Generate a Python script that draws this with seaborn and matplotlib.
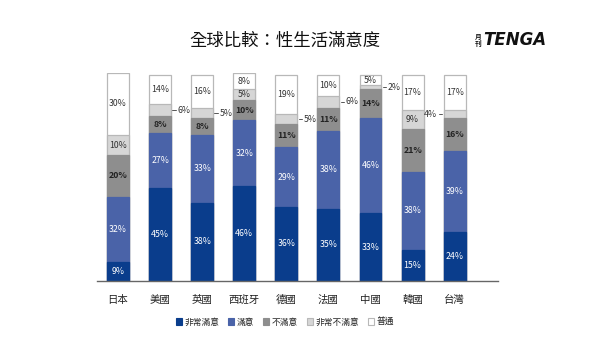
import matplotlib
matplotlib.use("Agg")
import matplotlib.pyplot as plt
import seaborn as sns
import numpy as np
import pandas as pd
from matplotlib.patches import Patch

sns.set_theme(style="white")
plt.rcParams['font.family'] = ['Noto Sans CJK TC', 'DejaVu Sans']

countries = ["日本", "美國", "英國", "西班牙", "德國", "法國", "中國", "韓國", "台灣"]
very_satisfied = [9, 45, 38, 46, 36, 35, 33, 15, 24]
satisfied = [32, 27, 33, 32, 29, 38, 46, 38, 39]
dissatisfied = [20, 8, 8, 10, 11, 11, 14, 21, 16]
very_dissatisfied = [10, 6, 5, 5, 5, 6, 2, 9, 4]
neutral = [30, 14, 16, 8, 19, 10, 5, 17, 17]

series_names = ["非常滿意", "滿意", "不滿意", "非常不滿意", "普通"]
series = [very_satisfied, satisfied, dissatisfied, very_dissatisfied, neutral]
colors = ["#0a3d8c", "#4a63a8", "#8e8e8e", "#d6d6d6", "#ffffff"]
edges = ["#0a3d8c", "#4a63a8", "#8e8e8e", "#b8b8b8", "#b8b8b8"]
text_colors = ["white", "white", "#222222", "#333333", "#333333"]
outside = {(1, 3): "r", (2, 3): "r", (4, 3): "r", (5, 3): "r", (6, 3): "r", (8, 3): "l"}

fig = plt.figure(figsize=(6.02, 3.39), dpi=100)
ax = fig.add_axes([97/602, 1-281/339, 401/602, 208/339])

arr = np.array(series, dtype=float)
cum = np.cumsum(arr, axis=0)
bw = 0.52
for k in range(len(series) - 1, -1, -1):
    df = pd.DataFrame({"country": countries, "v": cum[k]})
    sns.barplot(data=df, x="country", y="v", order=countries, color=colors[k],
                saturation=1, width=bw, edgecolor=edges[k], linewidth=0.9, ax=ax, zorder=2 + (5 - k))

for i in range(len(countries)):
    for k in range(len(series)):
        v = arr[k, i]
        mid = cum[k, i] - v / 2
        lab = f"{int(v)}%"
        bold = k == 2
        if (i, k) in outside:
            side = outside[(i, k)]
            if side == "r":
                x0 = i + bw / 2
                ax.plot([x0 + 0.03, x0 + 0.12], [mid, mid], color="#555555", lw=0.7, zorder=10)
                ax.text(x0 + 0.15, mid, lab, ha="left", va="center", fontsize=6.3, color="#333333", zorder=10)
            else:
                x0 = i - bw / 2
                ax.plot([x0 - 0.12, x0 - 0.03], [mid, mid], color="#555555", lw=0.7, zorder=10)
                ax.text(x0 - 0.15, mid, lab, ha="right", va="center", fontsize=6.3, color="#333333", zorder=10)
        else:
            ax.text(i, mid, lab, ha="center", va="center", fontsize=6.3, color=text_colors[k],
                    fontweight="bold" if bold else "normal", zorder=10)

ax.set_xlim(-0.5, 9.03)
ax.set_ylim(0, 101)
ax.set_xlabel("")
ax.set_ylabel("")
ax.set_yticks([])
ax.tick_params(axis="x", length=0, pad=10, labelsize=7.5, colors="#222222")
for s in ["top", "right", "left"]:
    ax.spines[s].set_visible(False)
ax.spines["bottom"].set_color("#666666")
ax.spines["bottom"].set_linewidth(1.0)
ax.spines["bottom"].set_zorder(20)

fig.text(285/602, 1-41/339, "全球比較：性生活滿意度", ha="center", va="center", fontsize=12.5, color="#111111")
fig.text(478/602, 1-40/339, "月\n刊", ha="center", va="center", fontsize=4.8, color="#111111", linespacing=0.85,
         fontweight="bold")
fig.text(483/602, 1-40/339, "TENGA", ha="left", va="center", fontsize=12, color="#111111",
         fontweight="bold", fontstyle="italic", family="DejaVu Sans")

handles = [Patch(facecolor=colors[k], edgecolor=edges[k], linewidth=0.8) for k in range(len(series))]
fig.legend(handles, series_names, loc="center", bbox_to_anchor=(285/602, 1-322/339), ncol=5,
           frameon=False, fontsize=6.3, handlelength=0.7, handleheight=0.7, handletextpad=0.3,
           columnspacing=1.0)

fig.savefig("out.png", dpi=100)
